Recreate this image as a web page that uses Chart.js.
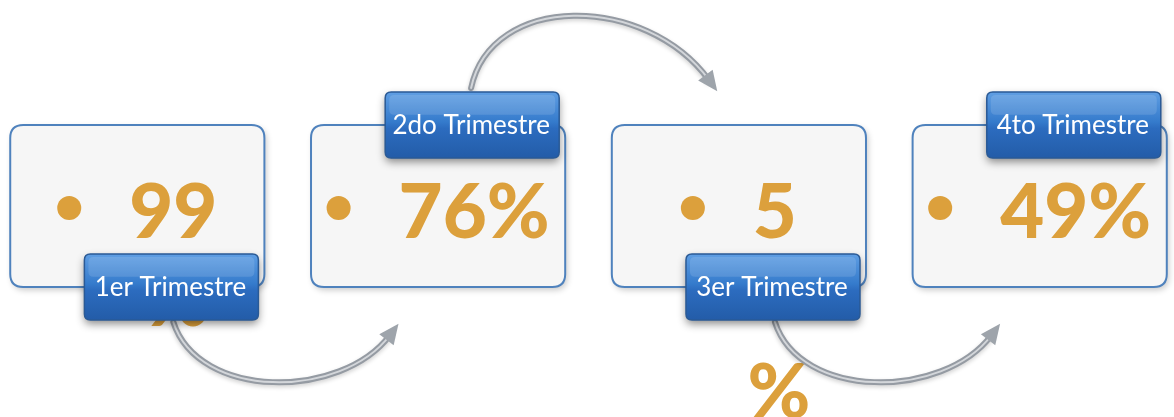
<!DOCTYPE html>
<html>
<head>
<meta charset="utf-8">
<script src="https://cdn.jsdelivr.net/npm/chart.js@4"></script>
<style>
  html, body { margin: 0; padding: 0; background: #fff; overflow: hidden; }
</style>
</head>
<body>
<canvas id="chart" width="1174" height="417"></canvas>
<script>
const quarters = ['1er Trimestre', '2do Trimestre', '3er Trimestre', '4to Trimestre']
const percentages = [99, 76, 5, 49]

const GOLD = '#dca03c'

function rr(ctx, x, y, w, h, r) {
  ctx.beginPath()
  ctx.moveTo(x + r, y)
  ctx.lineTo(x + w - r, y)
  ctx.quadraticCurveTo(x + w, y, x + w, y + r)
  ctx.lineTo(x + w, y + h - r)
  ctx.quadraticCurveTo(x + w, y + h, x + w - r, y + h)
  ctx.lineTo(x + r, y + h)
  ctx.quadraticCurveTo(x, y + h, x, y + h - r)
  ctx.lineTo(x, y + r)
  ctx.quadraticCurveTo(x, y, x + r, y)
  ctx.closePath()
}

function drawArrow(ctx, s, c1, c2, e) {
  const ang = Math.atan2(e.y - c2.y, e.x - c2.x)
  // stop the shaft a bit before the tip
  const ex = e.x - Math.cos(ang) * 10, ey = e.y - Math.sin(ang) * 10
  ctx.save()
  ctx.lineCap = 'round'
  ctx.shadowColor = 'rgba(0,0,0,0.18)'
  ctx.shadowBlur = 4
  ctx.shadowOffsetY = 2
  ctx.beginPath()
  ctx.moveTo(s.x, s.y)
  ctx.bezierCurveTo(c1.x, c1.y, c2.x, c2.y, ex, ey)
  ctx.strokeStyle = '#959ba3'
  ctx.lineWidth = 6
  ctx.stroke()
  ctx.shadowColor = 'transparent'
  ctx.strokeStyle = '#d3d6da'
  ctx.lineWidth = 2
  ctx.stroke()
  // head
  ctx.beginPath()
  ctx.moveTo(e.x + Math.cos(ang) * 4, e.y + Math.sin(ang) * 4)
  ctx.lineTo(ex - Math.cos(ang) * 6 + Math.cos(ang + Math.PI / 2) * 9, ey - Math.sin(ang) * 6 + Math.sin(ang + Math.PI / 2) * 9)
  ctx.lineTo(ex - Math.cos(ang) * 6 - Math.cos(ang + Math.PI / 2) * 9, ey - Math.sin(ang) * 6 - Math.sin(ang + Math.PI / 2) * 9)
  ctx.closePath()
  ctx.fillStyle = '#9ea4ab'
  ctx.fill()
  ctx.restore()
}

// the "%" overflowed onto lower lines in the original slide
const pctWrap = [1, 0, 2, 0]

const cardPlugin = {
  id: 'cards',
  afterDatasetsDraw(chart) {
    const { ctx, scales: { x, y } } = chart
    const unit = x.getPixelForValue(1) - x.getPixelForValue(0)
    const w = unit * 0.845
    const top = y.getPixelForValue(125)
    const h = y.getPixelForValue(287) - top

    const boxes = quarters.map((q, i) => {
      const cx = x.getPixelForValue(i)
      return { cx, left: cx - w / 2, right: cx + w / 2, top, bottom: top + h }
    })

    // cards
    boxes.forEach(b => {
      ctx.save()
      ctx.shadowColor = 'rgba(0,0,0,0.22)'
      ctx.shadowBlur = 6
      ctx.shadowOffsetX = 2
      ctx.shadowOffsetY = 3
      rr(ctx, b.left, b.top, w, h, 13)
      ctx.fillStyle = '#f6f6f6'
      ctx.fill()
      ctx.shadowColor = 'transparent'
      ctx.lineWidth = 2
      ctx.strokeStyle = '#4f82bd'
      ctx.stroke()
      ctx.restore()
    })

    // values
    ctx.save()
    ctx.font = '900 76px Lato, "Open Sans", sans-serif'
    ctx.fillStyle = GOLD
    ctx.textBaseline = 'alphabetic'
    boxes.forEach((b, i) => {
      const wrap = pctWrap[i]
      const main = wrap ? String(percentages[i]) : percentages[i] + '%'
      const tw = ctx.measureText(main).width
      const r = 12, gap = 48
      const gx = b.cx - (2 * r + gap + tw) / 2
      ctx.beginPath()
      ctx.arc(gx + r, b.top + 83, r, 0, Math.PI * 2)
      ctx.fill()
      const tx = gx + 2 * r + gap
      const base = b.top + 113
      ctx.textAlign = 'left'
      ctx.fillText(main, tx, base)
      if (wrap) {
        ctx.textAlign = 'center'
        ctx.fillText('%', tx + tw / 2 + 4, base + wrap * 88 + (wrap > 1 ? 4 : 0))
      }
    })
    ctx.restore()

    // arrows
    for (let i = 0; i < boxes.length - 1; i++) {
      const a = boxes[i], n = boxes[i + 1]
      if (i % 2 === 0) {
        const s = { x: a.cx + 36, y: a.bottom + 35 }
        const e = { x: n.cx - 42, y: a.bottom + 40 }
        drawArrow(ctx, s, { x: s.x + 25, y: s.y + 78 }, { x: e.x - 55, y: e.y + 73 }, e)
      } else {
        const s = { x: a.cx + 33, y: a.top - 37 }
        const e = { x: n.cx - 24, y: a.top - 37 }
        drawArrow(ctx, s, { x: s.x + 20, y: s.y - 95 }, { x: e.x - 70, y: e.y - 95 }, e)
      }
    }

    // quarter labels
    boxes.forEach((b, i) => {
      const lw = 174, lh = 66
      const right = b.right - 6
      const left = right - lw
      const cy = i % 2 === 0 ? b.bottom : b.top
      const lt = cy - lh / 2
      ctx.save()
      ctx.shadowColor = 'rgba(0,0,0,0.45)'
      ctx.shadowBlur = 8
      ctx.shadowOffsetY = 4
      rr(ctx, left, lt, lw, lh, 6)
      const g = ctx.createLinearGradient(0, lt, 0, lt + lh)
      g.addColorStop(0, '#5f9ee3')
      g.addColorStop(0.45, '#357bcc')
      g.addColorStop(0.55, '#2c6cbf')
      g.addColorStop(1, '#235ca8')
      ctx.fillStyle = g
      ctx.fill()
      ctx.shadowColor = 'transparent'
      ctx.lineWidth = 1.5
      ctx.strokeStyle = '#2a5a96'
      ctx.stroke()
      // gloss
      rr(ctx, left + 4, lt + 3, lw - 8, lh * 0.3, 5)
      ctx.fillStyle = 'rgba(255,255,255,0.12)'
      ctx.fill()
      ctx.fillStyle = '#ffffff'
      ctx.font = '26px Lato, "Noto Sans", sans-serif'
      ctx.textAlign = 'center'
      ctx.textBaseline = 'middle'
      ctx.fillText(quarters[i], left + lw / 2 - 1, cy + 1)
      ctx.restore()
    })
  }
}

new Chart(document.getElementById('chart'), {
  type: 'scatter',
  data: {
    labels: quarters,
    datasets: [{
      label: 'Cumplimiento',
      data: percentages.map((v, i) => ({ x: i, y: v })),
      yAxisID: 'pct',
      pointRadius: 0,
      pointHoverRadius: 0
    }]
  },
  options: {
    responsive: false,
    animation: false,
    devicePixelRatio: 1,
    layout: { padding: 0 },
    plugins: { legend: { display: false }, tooltip: { enabled: false } },
    scales: {
      x: { type: 'linear', display: false, min: -0.4565, max: 3.4465 },
      y: { display: false, min: 0, max: 417, reverse: true },
      pct: { display: false, min: 0, max: 100 }
    }
  },
  plugins: [cardPlugin]
})
</script>
</body>
</html>
